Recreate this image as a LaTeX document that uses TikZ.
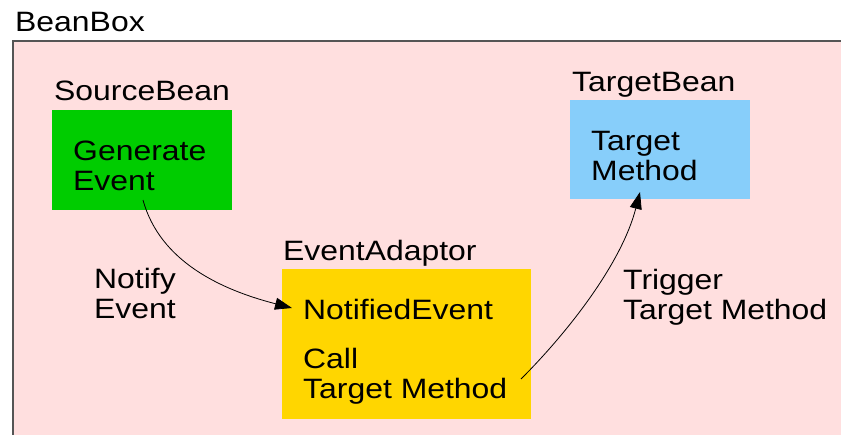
\documentclass[tikz,border=0pt]{standalone}
\usepackage{fontspec}
\setmainfont{Liberation Sans}[FakeStretch=1.14]
\usetikzlibrary{arrows.meta}
\definecolor{boxpink}{RGB}{255,223,223}
\definecolor{srcgreen}{RGB}{0,204,0}
\definecolor{adgold}{RGB}{255,214,0}
\definecolor{tgtblue}{RGB}{135,206,250}
\definecolor{frame}{RGB}{85,85,85}
\tikzset{
  lbl/.style={anchor=base west, inner sep=0pt, align=left,
              font=\fontsize{28}{30}\selectfont},
  flow/.style={line width=0.8pt, -{Triangle[length=17pt,width=12pt]}},
}
\begin{document}
\begin{tikzpicture}[x=1pt,y=-1pt]
\useasboundingbox (0,0) rectangle (841,434);
\begin{scope}
  \clip (0,0) rectangle (841,434);
  % outer BeanBox container
  \filldraw[fill=boxpink, draw=frame, line width=1.5pt] (13,41) rectangle (860,450);
\end{scope}
\node[lbl] (beanbox) at (15,31) {BeanBox};

% bean boxes
\fill[srcgreen] (52,110) rectangle (232,210);
\fill[adgold] (282,269) rectangle (531,419);
\fill[tgtblue] (570,100) rectangle (750,199);

% titles
\node[lbl] (srctitle) at (54,100) {SourceBean};
\node[lbl] (adtitle) at (283,260) {EventAdaptor};
\node[lbl] (tgttitle) at (572,91) {TargetBean};

% box contents (multi-line texts are placed by their last baseline)
\node[lbl] (gen) at (73,190) {Generate\\Event};
\node[lbl] (notified) at (303,319) {NotifiedEvent};
\node[lbl] (call) at (303,398) {Call\\Target Method};
\node[lbl] (tmethod) at (591,180) {Target\\Method};

% connector labels
\node[lbl] (notify) at (94,318) {Notify\\Event};
\node[lbl] (trigger) at (623,319) {Trigger\\Target Method};

% connector end points
\coordinate (genout) at (143,200);
\coordinate (notin) at (292,308);
\coordinate (callout) at (521,379);
\coordinate (tgtin) at (640,192);

\draw[flow] (genout) .. controls (160,262) and (222,290) .. (notin);
\draw[flow] (callout) .. controls (570,330) and (622,262) .. (tgtin);
\end{tikzpicture}
\end{document}
